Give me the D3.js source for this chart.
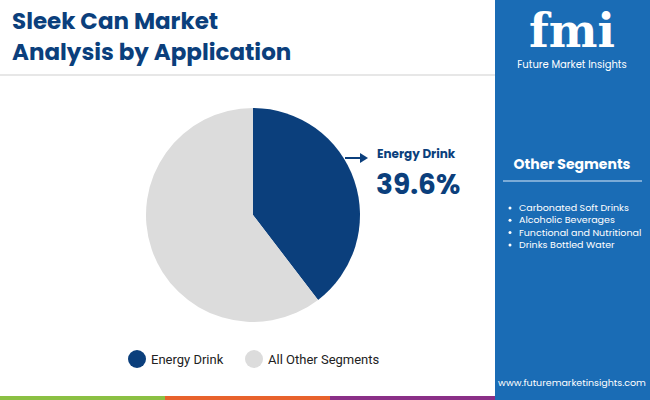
<!DOCTYPE html>
<html><head><meta charset="utf-8">
<script src="https://cdn.jsdelivr.net/npm/d3@7"></script>
<style>body{margin:0;} svg{display:block;font-family:Poppins,"Open Sans",sans-serif;}</style>
</head><body><div id="chart"></div>
<script>
const segments = ["Energy Drink", "All Other Segments"];
const shares = [39.6, 60.4];
const colors = ["#0b3f7c", "#dcdcdc"];
const otherSegments = ["Carbonated Soft Drinks", "Alcoholic Beverages", "Functional and Nutritional", "Drinks Bottled Water"];

const width = 650, height = 400;
const svg = d3.select("#chart").append("svg").attr("width", width).attr("height", height);
svg.append("rect").attr("width", width).attr("height", height).attr("fill", "#fff");

// Title
svg.append("text").attr("x", 12).attr("y", 29).text("Sleek Can Market")
  .attr("fill", "#0b3f7c").style("font-size", "23px").style("font-weight", 700);
svg.append("text").attr("x", 12).attr("y", 60).text("Analysis by Application")
  .attr("fill", "#0b3f7c").style("font-size", "23px").style("font-weight", 700);
svg.append("line").attr("x1", 0).attr("x2", 495).attr("y1", 75).attr("y2", 75)
  .attr("stroke", "#cfcfcf").attr("stroke-width", 1);

// Right panel
svg.append("rect").attr("x", 495).attr("y", 0).attr("width", 155).attr("height", height).attr("fill", "#1a6cb5");
svg.append("text").attr("x", 572).attr("y", 47).attr("text-anchor", "middle").text("fmi")
  .attr("fill", "#fff").style("font-size", "46px").style("font-weight", 700).style("font-family", "DejaVu Serif");
svg.append("text").attr("x", 572).attr("y", 68).attr("text-anchor", "middle").text("Future Market Insights")
  .attr("fill", "#fff").style("font-size", "10px");
svg.append("text").attr("x", 572).attr("y", 169).attr("text-anchor", "middle").text("Other Segments")
  .attr("fill", "#fff").style("font-size", "14px").style("font-weight", 700);
svg.append("line").attr("x1", 503).attr("x2", 642).attr("y1", 181).attr("y2", 181)
  .attr("stroke", "#9cc0e3").attr("stroke-width", 1.5);
otherSegments.forEach((s, i) => {
  const y = 211 + i * 12.3;
  svg.append("circle").attr("cx", 510).attr("cy", y - 3).attr("r", 1.5).attr("fill", "#fff");
  svg.append("text").attr("x", 519).attr("y", y).text(s).attr("fill", "#fff").style("font-size", "9.5px");
});
svg.append("text").attr("x", 572).attr("y", 386).attr("text-anchor", "middle").text("www.futuremarketinsights.com")
  .attr("fill", "#fff").style("font-size", "9.5px");

// Bottom strip
const strip = ["#8bc043", "#e8622c", "#8a2f87"];
const xs = d3.scaleBand().domain(d3.range(3)).range([0, 495]);
svg.selectAll(".strip").data(strip).join("rect")
  .attr("x", (d, i) => xs(i)).attr("y", 396).attr("width", xs.bandwidth()).attr("height", 4).attr("fill", d => d);

// Pie
const pie = d3.pie().sort(null).value(d => d);
const arc = d3.arc().innerRadius(0).outerRadius(107);
const g = svg.append("g").attr("transform", "translate(253,215)");
g.selectAll("path").data(pie(shares)).join("path").attr("d", arc).attr("fill", (d, i) => colors[i]);

// Callout
svg.append("line").attr("x1", 345).attr("x2", 362).attr("y1", 158).attr("y2", 158)
  .attr("stroke", "#0b3f7c").attr("stroke-width", 2);
svg.append("path").attr("d", "M360,153 L368,158 L360,163 Z").attr("fill", "#0b3f7c");
svg.append("text").attr("x", 377).attr("y", 158).text(segments[0])
  .attr("fill", "#0b3f7c").style("font-size", "12px").style("font-weight", 700);
svg.append("text").attr("x", 376).attr("y", 194).text(shares[0].toFixed(1) + "%")
  .attr("fill", "#0b3f7c").style("font-size", "28px").style("font-weight", 700);

// Legend
const lx = [137, 254];
segments.forEach((s, i) => {
  svg.append("circle").attr("cx", lx[i]).attr("cy", 359).attr("r", 9).attr("fill", colors[i]);
  svg.append("text").attr("x", lx[i] + 14).attr("y", 364).text(s)
    .attr("fill", "#222").style("font-size", "13px").style("font-family", "Roboto");
});
</script></body></html>
